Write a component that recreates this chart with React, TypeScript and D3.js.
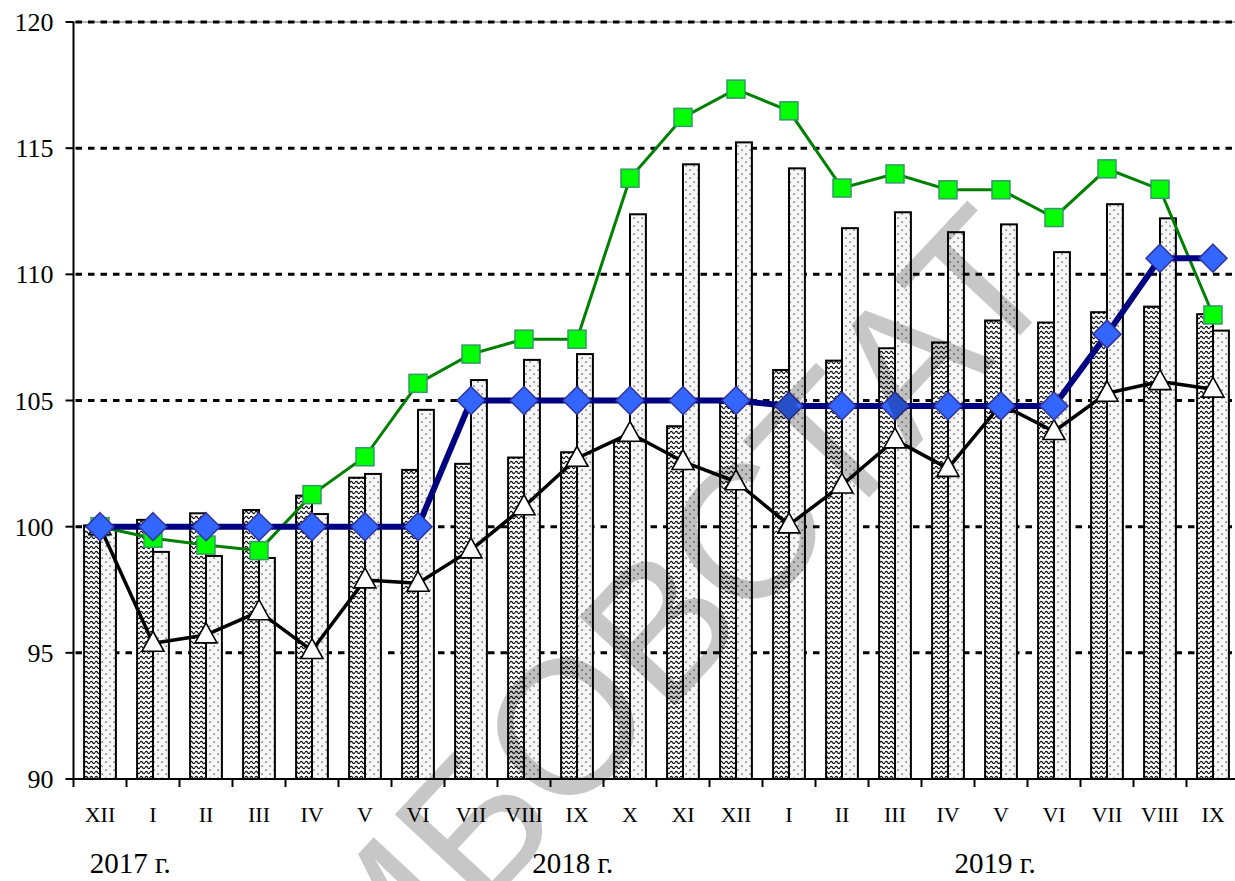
import React, { useEffect } from 'react';
import * as d3 from 'd3';

// ---------- DATA ----------
const categories = ['XII', 'I', 'II', 'III', 'IV', 'V', 'VI', 'VII', 'VIII', 'IX', 'X', 'XI', 'XII', 'I', 'II', 'III', 'IV', 'V', 'VI', 'VII', 'VIII', 'IX'];
const wavyValues = [100.05, 100.27, 100.53, 100.66, 101.23, 101.94, 102.25, 102.49, 102.74, 102.95, 103.4, 103.98, 104.9, 106.21, 106.58, 107.07, 107.3, 108.17, 108.09, 108.5, 108.72, 108.42];
const dottedValues = [99.9, 99.0, 98.84, 98.76, 100.5, 102.09, 104.63, 105.81, 106.61, 106.84, 112.38, 114.36, 115.23, 114.2, 111.83, 112.46, 111.67, 111.98, 110.88, 112.78, 112.22, 107.77];
const greenValues = [100.0, 99.54, 99.27, 99.05, 101.27, 102.77, 105.68, 106.84, 107.43, 107.43, 113.81, 116.22, 117.34, 116.48, 113.42, 113.98, 113.35, 113.35, 112.25, 114.18, 113.37, 108.39];
const blueValues = [100, 100, 100, 100, 100, 100, 100, 105, 105, 105, 105, 105, 105, 104.78, 104.78, 104.78, 104.78, 104.78, 104.78, 107.63, 110.64, 110.64];
const triangleValues = [100.0, 95.38, 95.71, 96.63, 95.09, 97.89, 97.76, 99.08, 100.79, 102.71, 103.7, 102.58, 101.78, 100.07, 101.65, 103.44, 102.31, 104.85, 103.77, 105.29, 105.75, 105.45];
const yTicks = [90, 95, 100, 105, 110, 115, 120];
const yearLabels = ['2017 г.', '2018 г.', '2019 г.'];
const watermarkText = 'ТАМБОВСТАТ';

// ---------- LAYOUT ----------
const W = 1235;
const H = 881;
const plotLeft = 73.5;
const step = 53;
const plotRight = plotLeft + step * categories.length;
const plotTop = 22;
const plotBottom = 779;
const yearCenters = [1.07, 9.42, 17.39]; // in category units from left edge

const serif = '"Liberation Serif", "Times New Roman", serif';

export default function App() {
  useEffect(() => {
    document.body.style.margin = '0';
  }, []);

  const idx = categories.map((_, i) => String(i));
  const x = d3.scaleBand<string>().domain(idx).range([plotLeft, plotRight]).paddingInner(0.4).paddingOuter(0.2);
  const x1 = d3.scaleBand<string>().domain(['wavy', 'dotted']).range([0, x.bandwidth()]);
  const y = d3.scaleLinear().domain([90, 120]).range([plotBottom, plotTop]);
  const cx = (i: number) => (x(String(i)) as number) + x.bandwidth() / 2;

  const line = d3
    .line<number>()
    .x((_, i) => cx(i))
    .y((d) => y(d));

  const greenPath = line(greenValues) || '';
  const bluePath = line(blueValues) || '';
  const blackPath = line(triangleValues) || '';

  const dashGrid = [95, 100, 105, 110, 115, 120];

  return (
    <svg width={W} height={H} style={{ position: 'absolute', left: 0, top: 0, background: '#fff' }}>
      <defs>
        <pattern id="wavy" patternUnits="userSpaceOnUse" width={5} height={5}>
          <rect width={5} height={5} fill="#fff" />
          <path d="M0,2.5 Q1.25,0.3 2.5,2.5 T5,2.5" fill="none" stroke="#000" strokeWidth={1.15} />
        </pattern>
        <pattern id="dotted" patternUnits="userSpaceOnUse" width={8} height={8}>
          <rect width={8} height={8} fill="#f6f6f6" />
          <rect x={1.5} y={1.5} width={1.2} height={1.2} fill="#222" />
          <rect x={5.5} y={5.5} width={1.2} height={1.2} fill="#222" />
        </pattern>
      </defs>

      {/* top border line */}
      <line x1={plotLeft} x2={W} y1={y(120)} y2={y(120)} stroke="#999" strokeWidth={1.5} />
      {/* grid */}
      {dashGrid.map((v) => (
        <line key={v} x1={plotLeft + 2} x2={W - 2} y1={y(v)} y2={y(v)} stroke="#000" strokeWidth={3} strokeDasharray="6.5 6" />
      ))}

      {/* bars */}
      {categories.map((_, i) => {
        const bx = x(String(i)) as number;
        return (
          <g key={i}>
            <rect
              x={bx + (x1('wavy') as number)}
              y={y(wavyValues[i])}
              width={x1.bandwidth()}
              height={y(90) - y(wavyValues[i])}
              fill="url(#wavy)"
              stroke="#000"
              strokeWidth={2}
            />
            <rect
              x={bx + (x1('dotted') as number)}
              y={y(dottedValues[i])}
              width={x1.bandwidth()}
              height={y(90) - y(dottedValues[i])}
              fill="url(#dotted)"
              stroke="#000"
              strokeWidth={2}
            />
          </g>
        );
      })}

      {/* axes */}
      <line x1={plotLeft} x2={plotLeft} y1={plotTop} y2={plotBottom + 1} stroke="#000" strokeWidth={2} />
      <line x1={plotLeft - 1} x2={W} y1={plotBottom} y2={plotBottom} stroke="#000" strokeWidth={2} />
      {yTicks.map((v) => (
        <g key={v}>
          <line x1={plotLeft - 8} x2={plotLeft} y1={y(v)} y2={y(v)} stroke="#000" strokeWidth={2} />
          <text x={plotLeft - 20} y={y(v) + 9} textAnchor="end" fontFamily={serif} fontSize={26} fill="#000">
            {v}
          </text>
        </g>
      ))}
      {d3.range(categories.length + 1).map((i) => (
        <line key={i} x1={plotLeft + i * step} x2={plotLeft + i * step} y1={plotBottom} y2={plotBottom + 8} stroke="#000" strokeWidth={2} />
      ))}
      {categories.map((c, i) => (
        <text key={i} x={cx(i)} y={822} textAnchor="middle" fontFamily={serif} fontSize={22} fill="#000">
          {c}
        </text>
      ))}
      {yearLabels.map((t, i) => (
        <text key={t} x={plotLeft + yearCenters[i] * step} y={873} textAnchor="middle" fontFamily={serif} fontSize={29} fill="#000">
          {t}
        </text>
      ))}

      {/* green line */}
      <path d={greenPath} fill="none" stroke="#008000" strokeWidth={3} />
      {greenValues.map((v, i) => (
        <rect key={i} x={cx(i) - 9} y={y(v) - 9} width={18} height={18} fill="#00ff00" stroke="#339966" strokeWidth={1.5} />
      ))}

      {/* black line with triangles */}
      <path d={blackPath} fill="none" stroke="#000" strokeWidth={3.5} strokeLinejoin="round" />
      {triangleValues.map((v, i) => {
        const px = cx(i);
        const py = y(v);
        return (
          <path
            key={i}
            d={`M${px},${py - 12} L${px + 11},${py + 8} L${px - 11},${py + 8} Z`}
            fill="#fff"
            stroke="#000"
            strokeWidth={1.6}
          />
        );
      })}

      {/* blue line with diamonds */}
      <path d={bluePath} fill="none" stroke="#000080" strokeWidth={6} />
      {blueValues.map((v, i) => {
        const px = cx(i);
        const py = y(v);
        return (
          <path
            key={i}
            d={`M${px},${py - 14} L${px + 14},${py} L${px},${py + 14} L${px - 14},${py} Z`}
            fill="#3366ff"
            stroke="#333399"
            strokeWidth={1.5}
          />
        );
      })}

      {/* watermark */}
      <text
        transform="translate(590,700) rotate(-47)"
        textAnchor="middle"
        dominantBaseline="central"
        fontFamily='"Liberation Sans", Arial, sans-serif'
        fontSize={190}
        fill="#000"
        fillOpacity={0.22}
      >
        {watermarkText}
      </text>
    </svg>
  );
}
